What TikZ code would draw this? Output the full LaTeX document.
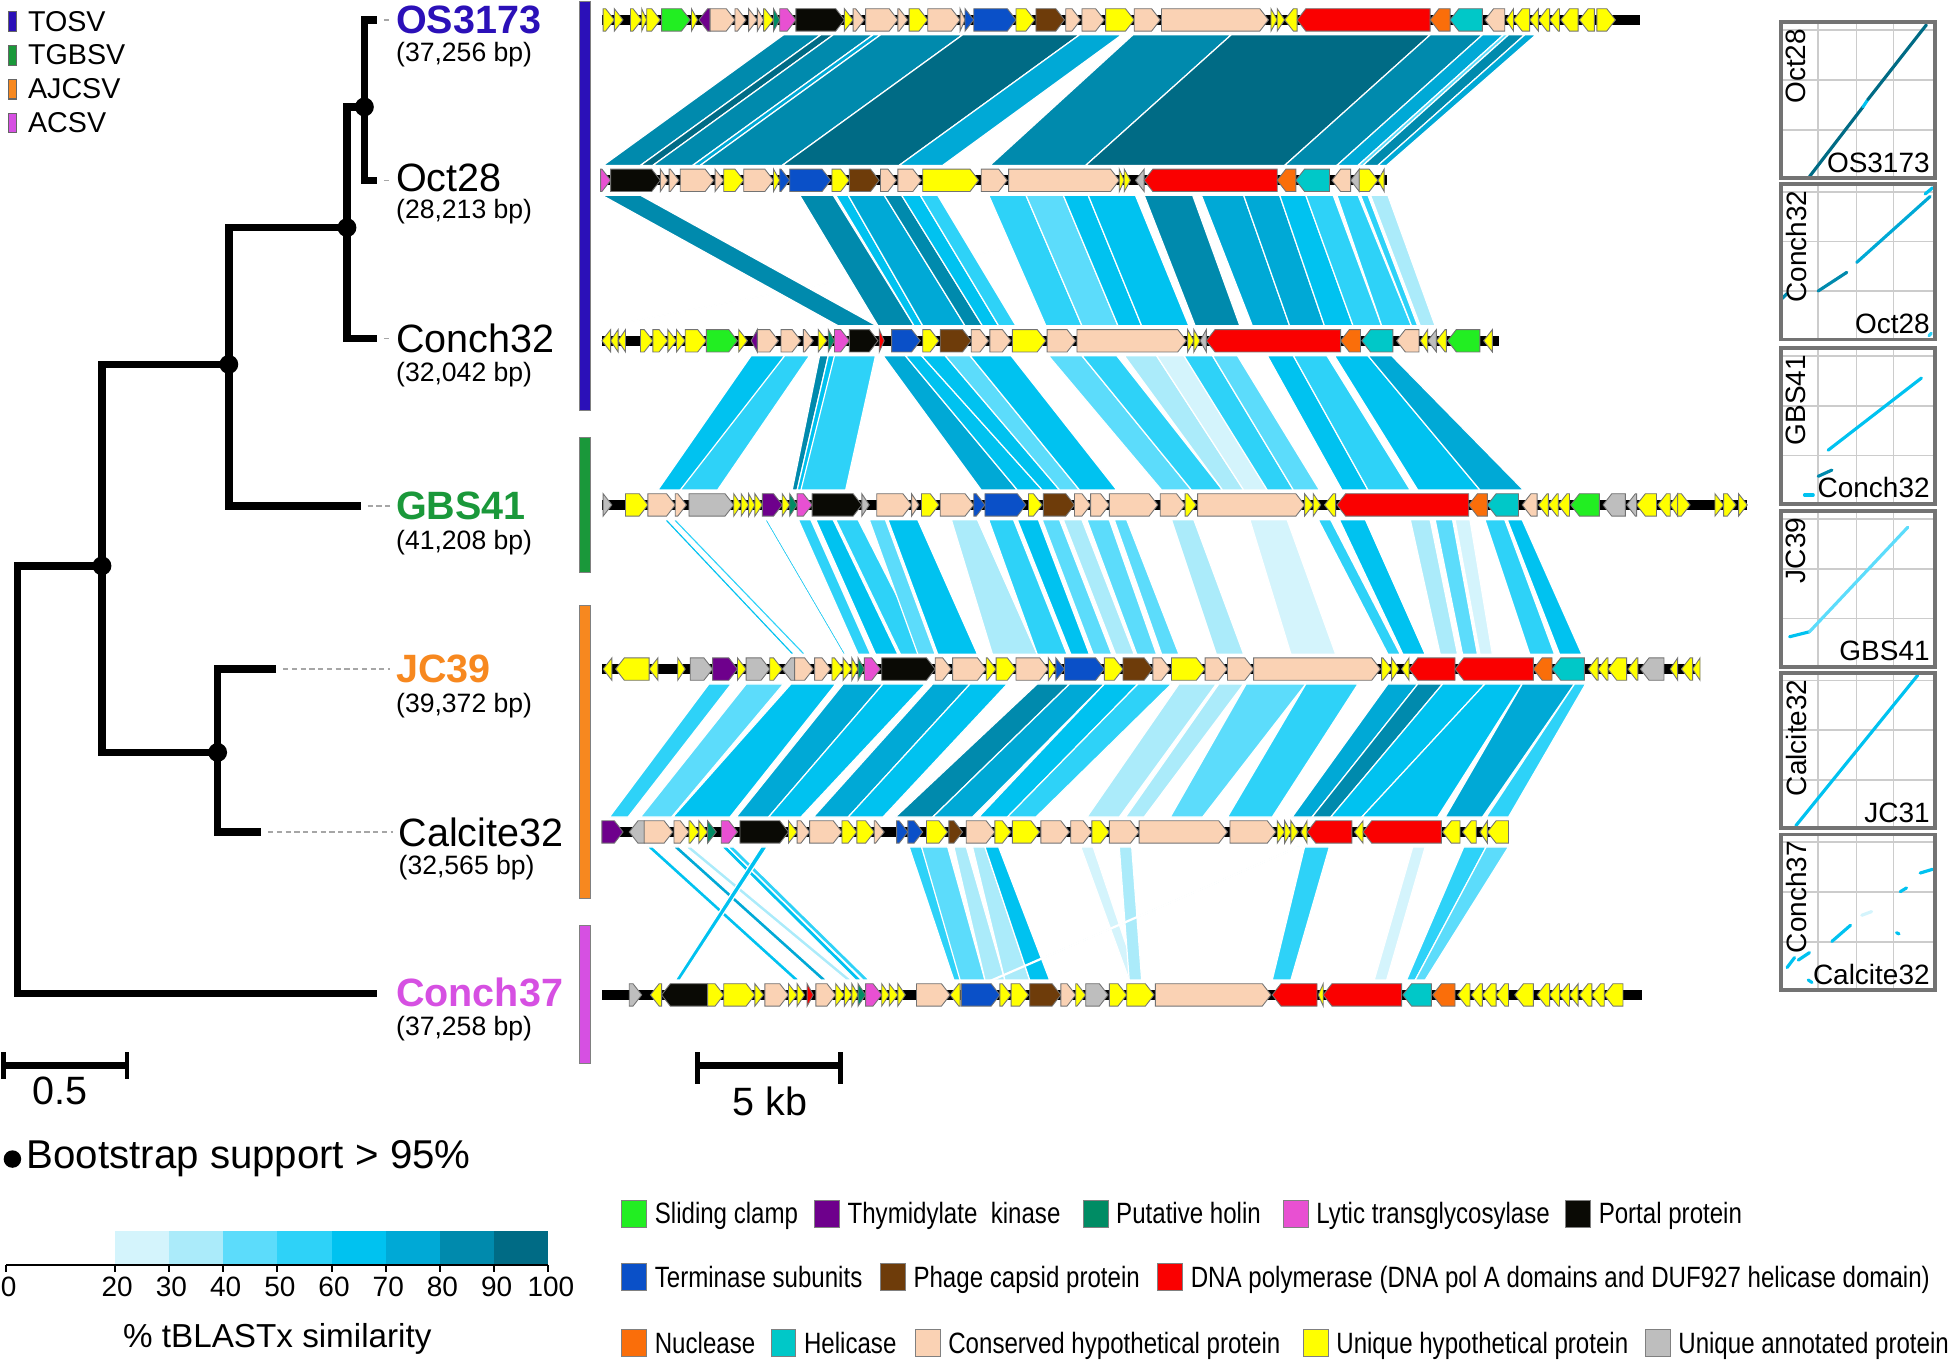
\documentclass[tikz,border=0pt]{standalone}
\usepackage{fontspec}
\setmainfont{Liberation Sans}
\newfontfamily\narrowfont[FakeStretch=0.82]{Liberation Sans}
\usetikzlibrary{calc}

% clade colours
\definecolor{tosv}{RGB}{43,16,184}
\definecolor{tgbsv}{RGB}{26,152,58}
\definecolor{ajcsv}{RGB}{247,136,31}
\definecolor{acsv}{RGB}{214,80,226}
% gene classes
\definecolor{clamp}{RGB}{34,238,34}
\definecolor{tmk}{RGB}{110,0,140}
\definecolor{holin}{RGB}{0,140,100}
\definecolor{lytic}{RGB}{232,80,210}
\definecolor{portal}{RGB}{10,10,5}
\definecolor{term}{RGB}{10,80,200}
\definecolor{capsid}{RGB}{110,60,10}
\definecolor{pol}{RGB}{250,0,0}
\definecolor{nucl}{RGB}{250,110,10}
\definecolor{helic}{RGB}{0,200,200}
\definecolor{chyp}{RGB}{250,210,180}
\definecolor{uhyp}{RGB}{255,255,0}
\definecolor{uann}{RGB}{190,190,190}
% tBLASTx shades
\definecolor{s20}{RGB}{212,244,252}
\definecolor{s30}{RGB}{171,235,250}
\definecolor{s40}{RGB}{92,220,251}
\definecolor{s50}{RGB}{46,210,248}
\definecolor{s60}{RGB}{0,194,240}
\definecolor{s70}{RGB}{0,169,214}
\definecolor{s80}{RGB}{0,138,173}
\definecolor{s90}{RGB}{0,107,133}

\newcommand\fsz[1]{\fontsize{#1}{#1}\selectfont}

\tikzset{
  branch/.style={line width=2.1pt, line join=miter},
  leader/.style={black!35, dash pattern=on 1.5pt off 1pt, line width=0.4pt, shorten <=2pt, shorten >=1.5pt},
  taxon/.style={anchor=west, inner sep=0pt, font=\fsz{11.3}},
  boldtaxon/.style={anchor=west, inner sep=0pt, font=\fsz{11.3}\bfseries},
  bplabel/.style={anchor=west, inner sep=0pt, font=\fsz{7.6}},
  gene/.style={draw=black!55, line width=0.25pt, line join=miter},
  band/.style={draw=white, line width=0.35pt},
  swatch/.style={draw=black!50, line width=0.3pt},
  keytext/.style={anchor=base west, inner sep=0pt, font=\narrowfont\fsz{8.4}},
  dotbox/.style={draw=black!55, line width=1.1pt},
  dotgrid/.style={black!20, line width=0.5pt},
  dotlabel/.style={inner sep=1pt, font=\fsz{8}},
  hit/.style={line width=0.9pt, line cap=round},
  scalebar/.style={line width=2pt},
}

% one genome: y, end of backbone, genes start/end/colour/strand
\newcommand\genome[3]{%
  \fill (484,#1-4) rectangle (#2,#1+4);
  \foreach \xa/\xb/\col/\dir in {#3}{
    \pgfmathsetmacro\tailx{\dir>0 ? \xa : \xb}
    \pgfmathsetmacro\tipx{\dir>0 ? \xb : \xa}
    \pgfmathsetmacro\neckx{\tipx-(\dir)*min(7,\xb-\xa)}
    \draw[gene, fill=\col] (\tailx,#1-9) -- (\neckx,#1-9) -- (\tipx,#1)
      -- (\neckx,#1+9) -- (\tailx,#1+9) -- cycle;
  }}
% similarity bands between two genomes
\newcommand\bands[3]{%
  \foreach \ta/\tb/\ba/\bb/\sh in {#3}
    \filldraw[band, fill=\sh] (\ta,#1) -- (\tb,#1) -- (\bb,#2) -- (\ba,#2) -- cycle;}

\begin{document}
\begin{tikzpicture}[x=0.125mm, y=-0.125mm]
\useasboundingbox (0,0) rectangle (1568,1094);

% clade key
\foreach \col/\txt [count=\i] in {tosv/TOSV, tgbsv/TGBSV, ajcsv/AJCSV, acsv/ACSV}{
  \pgfmathsetmacro\ky{17+27.3*(\i-1)}
  \fill[\col, draw=black!60, line width=0.3pt] (7,\ky-8) rectangle (13,\ky+8);
  \node[anchor=west, inner sep=0pt, font=\fsz{8.2}] (key\i) at (22,\ky) {\txt};
}

% tree
\coordinate (r) at (14,455);
\coordinate (n2) at (82,455);
\coordinate (n3) at (184,293);
\coordinate (n4) at (175,605);
\coordinate (n5) at (279,183);
\coordinate (n6) at (293,86);
\coordinate (tOS) at (303,16);
\coordinate (tOct) at (303,145);
\coordinate (tCon32) at (303,272);
\coordinate (tGBS) at (290,407);
\coordinate (tJC) at (222,538);
\coordinate (tCal) at (210,669);
\coordinate (tCon37) at (303,799);
\draw[branch] (n2) -- (r) |- (tCon37);
\draw[branch] (n3) -| (n2) |- (n4);
\draw[branch] (n5) -| (n3) |- (tGBS);
\draw[branch] (tJC) -| (n4) |- (tCal);
\draw[branch] (n6) -| (n5) |- (tCon32);
\draw[branch] (tOS) -| (n6) |- (tOct);
\foreach \n in {n2,n3,n4,n5,n6} \fill (\n) circle (2.7pt);

% taxa
\node[boldtaxon, tosv] (lOS) at (318,16) {OS3173};
\node[bplabel] (bOS) at (318,44) {(37,256 bp)};
\node[taxon] (lOct) at (318,143) {Oct28};
\node[bplabel] (bOct) at (318,170) {(28,213 bp)};
\node[taxon] (lCon32) at (318,272) {Conch32};
\node[bplabel] (bCon32) at (318,301) {(32,042 bp)};
\node[boldtaxon, tgbsv] (lGBS) at (318,407) {GBS41};
\node[bplabel] (bGBS) at (318,436) {(41,208 bp)};
\node[boldtaxon, ajcsv] (lJC) at (318,538) {JC39};
\node[bplabel] (bJC) at (318,567) {(39,372 bp)};
\node[taxon] (lCal) at (320,669) {Calcite32};
\node[bplabel] (bCal) at (320,698) {(32,565 bp)};
\node[boldtaxon, acsv] (lCon37) at (318,798) {Conch37};
\node[bplabel] (bCon37) at (318,827) {(37,258 bp)};
\foreach \t/\l in {tOS/lOS, tOct/lOct, tCon32/lCon32, tGBS/lGBS, tJC/lJC, tCal/lCal}
  \draw[leader] (\t) -- (\t -| \l.west);

% clade bars
\fill[tosv, draw=black!50, line width=0.2pt] (466,1) rectangle (475,330);
\fill[tgbsv, draw=black!50, line width=0.2pt] (466,352) rectangle (475,460);
\fill[ajcsv, draw=black!50, line width=0.2pt] (466,487) rectangle (475,722);
\fill[acsv, draw=black!50, line width=0.2pt] (466,744) rectangle (475,855);

% tree scale and bootstrap key
\draw[scalebar] (3,857) -- (102,857);
\draw[line width=1.3pt] (3,846) -- (3,868) (102,846) -- (102,868);
\node[font=\fsz{11.3}] (treescale) at (48,877) {0.5};
\fill (10,932) circle (2.5pt);
\node[anchor=west, inner sep=0pt, font=\fsz{11.5}] (boot) at (21,932) {Bootstrap support > 95\%};

% similarity bands
\bands{28}{133}{630/660/485/515/s80, 660/670/515/525/s90, 670/702/525/557/s80,
  702/708/557/563/s70, 708/774/563/629/s80, 774/868/629/723/s90, 868/902/723/758/s70,
  911/990/796/873/s80, 990/1150/873/1033/s90, 1150/1192/1033/1075/s80,
  1192/1209/1075/1092/s70, 1209/1213/1092/1096/s40, 1213/1226/1096/1108/s80,
  1226/1235/1108/1115/s70}
\bands{157}{262}{1030/1032/488/490/s30, 484/515/674/705/s80, 643/670/706/735/s80,
  672/682/735/742/s60, 682/711/742/776/s70, 711/725/776/790/s80, 725/740/790/803/s60,
  740/754/803/817/s50, 795/825/841/870/s50, 825/855/870/899/s40, 855/875/899/918/s60,
  875/913/918/956/s60, 920/959/961/997/s80, 966/1000/1007/1037/s70, 1000/1029/1037/1065/s70,
  1029/1050/1065/1088/s60, 1050/1072/1088/1111/s50, 1075/1092/1111/1135/s50,
  1094/1100/1135/1140/s50, 1102/1116/1142/1154/s30}
\bands{286}{394}{604/631/529/559/s60, 631/651/547/577/s50, 659/666/637/641/s80,
  666/680/641/648/s60, 671/704/644/680/s50, 710/728/789/818/s70, 728/741/818/838/s60,
  741/760/838/852/s60, 760/780/852/868/s40, 780/813/868/898/s60, 843/870/934/958/s40,
  870/898/958/983/s50, 904/930/983/1000/s30, 930/952/1000/1019/s20, 952/975/1019/1040/s50,
  975/995/1040/1061/s40, 1019/1040/1079/1100/s60, 1040/1067/1100/1134/s50,
  1073/1100/1140/1190/s60, 1100/1119/1190/1225/s70}
\bands{418}{526}{534/537/636/639/s60, 541/544/645/648/s50, 615/617/678/680/s60,
  642/652/690/700/s50, 656/670/704/722/s60, 672/690/724/745/s50, 699/712/738/752/s40,
  714/738/754/786/s60, 765/786/798/834/s30, 795/815/834/858/s50, 818/835/861/876/s60,
  838/852/879/894/s40, 855/870/897/912/s30, 874/892/914/930/s40, 896/906/934/948/s40,
  942/960/978/1000/s30, 1005/1035/1038/1074/s20, 1060/1070/1116/1126/s50,
  1077/1098/1128/1146/s60, 1134/1150/1158/1172/s30, 1154/1168/1176/1188/s40,
  1170/1182/1190/1200/s20, 1194/1210/1230/1250/s50, 1212/1224/1254/1272/s60}
\bands{550}{657}{570/588/490/505/s50, 600/630/515/540/s40, 636/672/541/587/s60,
  678/710/592/618/s70, 710/744/618/644/s60, 750/780/654/682/s70, 780/810/682/710/s60,
  834/860/720/750/s80, 860/888/750/782/s70, 888/915/787/810/s60, 915/942/810/833/s50,
  948/978/874/900/s30, 980/1000/905/920/s30, 1002/1050/941/967/s40, 1050/1092/987/1023/s50,
  1116/1140/1039/1055/s70, 1140/1160/1055/1070/s80, 1160/1194/1070/1095/s60,
  1194/1224/1095/1156/s60, 1224/1266/1162/1192/s70, 1266/1275/1195/1213/s50}
\bands{681}{788}{520/525/638/643/s60, 541/546/660/665/s70, 551/556/680/685/s30,
  580/585/688/693/s60, 585/590/694/699/s50, 612/617/543/547/s60, 731/741/767/777/s50,
  741/762/772/792/s40, 767/777/792/808/s30, 782/792/808/828/s30, 792/803/828/844/s60,
  869/879/908/915/s20, 900/910/908/918/s30, 1043/1045/797/799/s50, 1049/1069/1023/1038/s50,
  1136/1146/1105/1115/s20, 1177/1195/1131/1138/s50, 1195/1213/1138/1146/s40}

% genome maps
\genome{16}{1319}{485/494/uhyp/1, 494/501/uhyp/1, 507/516/uhyp/1, 516/520/uhyp/1,
  520/531/uhyp/1, 532/555/clamp/1, 556/561/uhyp/1, 562/571/tmk/-1, 571/591/chyp/1,
  591/600/chyp/1, 602/609/chyp/1, 609/614/chyp/1, 614/622/uhyp/1, 622/627/holin/1,
  627/640/lytic/1, 640/679/portal/1, 679/686/uhyp/1, 686/695/chyp/1, 696/722/chyp/1,
  722/730/chyp/1, 731/746/uhyp/1, 746/772/chyp/1, 772/776/chyp/1, 776/783/term/1,
  783/817/term/1, 817/832/uhyp/1, 833/856/capsid/1, 857/869/chyp/1, 870/888/chyp/1,
  889/912/uhyp/1, 912/933/chyp/1, 934/1020/chyp/1, 1022/1027/uhyp/1, 1027/1033/uhyp/1,
  1033/1043/uhyp/-1, 1043/1150/pol/-1, 1150/1166/nucl/-1, 1166/1192/helic/-1,
  1194/1210/chyp/-1, 1211/1217/uhyp/-1, 1217/1230/uhyp/-1, 1230/1237/uhyp/-1,
  1237/1246/uhyp/-1, 1246/1254/uhyp/-1, 1255/1269/uhyp/-1, 1270/1282/uhyp/-1,
  1284/1299/uhyp/1}
\genome{145}{1115}{483/491/lytic/1, 491/531/portal/1, 531/537/chyp/1, 538/546/chyp/1,
  547/574/chyp/1, 575/582/chyp/1, 582/598/uhyp/1, 598/622/chyp/1, 622/627/uhyp/1,
  627/635/term/1, 635/668/term/1, 669/683/uhyp/1, 683/707/capsid/1, 708/721/chyp/1,
  722/741/chyp/1, 742/787/uhyp/1, 789/810/chyp/1, 811/900/chyp/1, 900/904/uhyp/1,
  904/909/uhyp/1, 913/920/uann/-1, 920/1027/pol/-1, 1027/1042/nucl/-1, 1042/1069/helic/-1,
  1071/1086/chyp/-1, 1086/1093/uann/-1, 1093/1108/uhyp/1, 1108/1113/uhyp/-1}
\genome{274}{1205}{484/491/uhyp/-1, 491/497/uhyp/-1, 497/503/uhyp/-1, 515/525/uhyp/1,
  525/537/uhyp/1, 537/544/uhyp/1, 544/551/uhyp/1, 551/568/uhyp/1, 568/593/clamp/1,
  594/601/uhyp/1, 604/609/tmk/-1, 609/626/chyp/1, 628/644/chyp/1, 646/654/chyp/1,
  658/665/uhyp/1, 666/671/holin/1, 671/683/lytic/1, 683/706/portal/1, 707/711/pol/1,
  717/740/term/1, 742/755/uhyp/1, 756/781/capsid/1, 781/795/chyp/1, 796/813/chyp/1,
  814/841/uhyp/1, 842/865/chyp/1, 866/954/chyp/1, 955/960/uhyp/1, 960/965/uhyp/1,
  965/970/uann/-1, 970/1078/pol/-1, 1078/1094/nucl/-1, 1095/1120/helic/-1,
  1123/1141/chyp/-1, 1142/1148/uhyp/-1, 1148/1155/uann/-1, 1155/1163/uhyp/-1,
  1164/1190/clamp/-1, 1193/1200/uhyp/-1}
\genome{406}{1405}{485/492/uann/1, 503/521/uhyp/1, 521/543/chyp/1, 543/552/chyp/1,
  554/590/uann/1, 590/596/uhyp/1, 596/602/uhyp/1, 602/607/uhyp/1, 607/613/uhyp/1,
  613/629/tmk/1, 629/635/uhyp/1, 635/641/holin/1, 641/653/lytic/1, 653/693/portal/1,
  693/699/uann/1, 705/733/chyp/1, 733/739/chyp/1, 741/755/uhyp/1, 756/783/chyp/1,
  783/792/term/1, 792/825/term/1, 827/838/uhyp/1, 839/864/capsid/1, 864/877/chyp/1,
  877/892/chyp/1, 892/931/chyp/1, 933/953/chyp/1, 953/962/uhyp/1, 963/1049/chyp/1,
  1049/1056/uhyp/1, 1056/1062/uhyp/1, 1065/1074/uhyp/-1, 1075/1181/pol/-1,
  1181/1196/nucl/-1, 1196/1221/helic/-1, 1224/1236/chyp/-1, 1237/1245/uhyp/-1,
  1245/1253/uhyp/-1, 1253/1262/uhyp/-1, 1263/1286/clamp/-1, 1289/1307/uann/-1,
  1308/1316/uann/-1, 1316/1332/uhyp/-1, 1333/1343/uhyp/-1, 1343/1349/uhyp/-1,
  1349/1359/uhyp/1, 1379/1386/uhyp/1, 1386/1396/uhyp/1, 1398/1405/uhyp/1}
\genome{538}{1367}{485/492/uhyp/-1, 495/522/uhyp/-1, 522/529/uhyp/-1, 545/551/uhyp/1,
  555/573/uann/1, 573/593/tmk/1, 593/600/uhyp/1, 600/619/uann/1, 619/629/uhyp/1,
  629/639/uann/-1, 639/654/chyp/1, 655/668/chyp/1, 669/678/uhyp/1, 678/685/uhyp/1,
  685/690/uhyp/1, 690/695/holin/1, 695/708/lytic/1, 709/752/portal/1, 752/765/chyp/1,
  766/793/chyp/1, 793/801/uhyp/1, 801/817/uhyp/1, 817/843/chyp/1, 843/849/uhyp/1,
  849/856/term/1, 856/888/term/1, 888/903/uhyp/1, 903/927/capsid/1, 927/941/chyp/1,
  942/969/uhyp/1, 969/987/chyp/1, 987/1008/chyp/1, 1008/1110/chyp/1, 1111/1119/uhyp/1,
  1119/1125/uhyp/1, 1127/1133/uhyp/-1, 1133/1170/pol/-1, 1170/1233/pol/-1,
  1233/1248/nucl/-1, 1248/1274/helic/-1, 1277/1285/uhyp/-1, 1285/1293/uhyp/-1,
  1293/1308/uhyp/-1, 1309/1317/uhyp/-1, 1319/1338/uann/-1, 1343/1349/uhyp/-1,
  1352/1361/uhyp/-1, 1361/1367/uhyp/-1}
\genome{669}{1213}{484/501/tmk/1, 506/518/uann/-1, 518/541/chyp/1, 542/554/chyp/1,
  554/562/uhyp/1, 562/569/uhyp/1, 569/576/holin/1, 580/593/lytic/1, 595/634/portal/1,
  634/641/uhyp/1, 641/651/chyp/1, 651/677/chyp/1, 677/689/uhyp/1, 689/703/uhyp/1,
  703/711/chyp/1, 721/730/term/1, 730/742/term/1, 745/762/uhyp/1, 763/774/capsid/1,
  777/800/chyp/1, 800/813/uhyp/1, 814/836/uhyp/1, 837/860/chyp/1, 861/878/chyp/1,
  878/892/uhyp/1, 892/916/chyp/1, 916/987/chyp/1, 989/1026/chyp/1, 1027/1033/uhyp/1,
  1033/1038/uhyp/1, 1038/1044/uhyp/1, 1046/1051/uhyp/-1, 1051/1087/pol/-1,
  1089/1096/uhyp/-1, 1096/1159/pol/-1, 1160/1174/uhyp/-1, 1176/1187/uhyp/-1,
  1190/1196/uhyp/-1, 1196/1213/uhyp/-1}
\genome{800}{1320}{506/516/uann/1, 523/532/uhyp/-1, 532/569/portal/-1, 569/582/uhyp/1,
  582/607/uhyp/1, 607/614/uhyp/1, 615/634/chyp/1, 634/641/uhyp/1, 641/647/uhyp/1,
  649/654/pol/1, 656/672/chyp/1, 672/679/uhyp/1, 679/685/uhyp/1, 685/690/uhyp/1,
  690/696/holin/1, 696/709/lytic/1, 709/715/uhyp/1, 715/722/uhyp/1, 722/728/uhyp/1,
  737/764/chyp/1, 764/772/uhyp/-1, 773/804/term/1, 804/813/uhyp/1, 813/827/uhyp/1,
  828/853/capsid/1, 853/865/chyp/1, 865/873/uhyp/1, 873/891/uann/1, 892/906/uhyp/1,
  906/928/uhyp/1, 929/1022/chyp/1, 1023/1059/pol/-1, 1060/1064/uhyp/-1,
  1064/1127/pol/-1, 1128/1151/helic/-1, 1152/1170/nucl/-1, 1172/1182/uhyp/-1,
  1183/1192/uhyp/-1, 1192/1203/uhyp/-1, 1203/1213/uhyp/-1, 1218/1233/uhyp/-1,
  1236/1246/uhyp/-1, 1246/1254/uhyp/-1, 1254/1262/uhyp/-1, 1262/1269/uhyp/-1,
  1270/1280/uhyp/-1, 1280/1290/uhyp/-1, 1290/1305/uhyp/-1}

% genome scale
\draw[scalebar] (561,857) -- (676,857);
\draw[line width=1.3pt] (561,846) -- (561,872) (676,846) -- (676,872);
\node[font=\fsz{11.3}] (kbscale) at (619,886) {5 kb};

% dot plots
\foreach \bt in {18,148,280,411,541,671}{
  \foreach \f in {0.24,0.49,0.73}
    \draw[dotgrid] ({1432+124*\f},\bt) -- ({1432+124*\f},\bt+125);
  \foreach \f in {0.05,0.37,0.69}
    \draw[dotgrid] (1432,{\bt+125*\f}) -- (1556,{\bt+125*\f});
}
\foreach \xa/\ya/\xb/\yb/\sh in {1455/142/1498/86/s90, 1498/86/1502/80/s60, 1502/80/1549/20/s90,
  1433/240/1437/236/s80, 1462/234/1485/219/s80, 1493/211/1552/158/s70, 1548/156/1554/151/s60,
  1551/270/1553/268/s50,
  1462/383/1473/378/s80, 1470/362/1545/304/s60, 1451/398/1458/398/s60,
  1439/512/1455/508/s60, 1455/508/1534/424/s40,
  1444/664/1542/543/s60,
  1437/778/1443/770/s60, 1446/772/1455/766/s60, 1473/757/1488/744/s60, 1497/736/1505/733/s20,
  1528/717/1533/714/s60, 1544/702/1554/699/s60, 1525/750/1527/751/s60, 1454/788/1457/790/s60}
  \draw[hit, \sh] (\xa,\ya) -- (\xb,\yb);
\foreach \bt/\ylab/\xlab [count=\k] in {18/Oct28/OS3173, 148/Conch32/Oct28,
    280/GBS41/Conch32, 411/JC39/GBS41, 541/Calcite32/JC31, 671/Conch37/Calcite32}{
  \draw[dotbox] (1432,\bt) rectangle (1556,\bt+125);
  \node[dotlabel, rotate=90, anchor=north east] (yl\k) at (1433,\bt+2) {\ylab};
  \node[dotlabel, anchor=south east] (xl\k) at (1555,\bt+124) {\xlab};
}

% tBLASTx colour key
\foreach \lo/\hi/\sh in {20/30/s20, 30/40/s30, 40/50/s40, 50/60/s50, 60/70/s60,
    70/80/s70, 80/90/s80, 90/100/s90}
  \fill[\sh] ({5+4.36*\lo},990) rectangle ({5+4.36*\hi},1017);
\draw[line width=0.6pt] (5,1017) -- (441,1017);
\foreach \v in {0,20,30,...,100}{
  \draw[line width=0.6pt] ({5+4.36*\v},1017) -- ({5+4.36*\v},1023);
  \node[font=\fsz{8}, inner sep=0pt] (tick\v) at ({7+4.36*\v},1035) {\v};
}
\node[font=\fsz{9.5}] (simlabel) at (223,1077) {\% tBLASTx similarity};

% gene key
\foreach \x/\y/\col/\txt [count=\i] in {500/976/clamp/Sliding clamp,
    655/976/tmk/Thymidylate\ \ kinase, 871/976/holin/Putative holin,
    1032/976/lytic/Lytic transglycosylase, 1259/976/portal/Portal protein,
    500/1027/term/Terminase subunits, 708/1027/capsid/Phage capsid protein,
    931/1027/pol/DNA polymerase (DNA pol A domains and DUF927 helicase domain),
    500/1080/nucl/Nuclease, 620/1080/helic/Helicase,
    736/1080/chyp/Conserved hypothetical protein,
    1048/1080/uhyp/Unique hypothetical protein, 1323/1080/uann/Unique annotated protein}{
  \fill[swatch, fill=\col] (\x,\y-11) rectangle (\x+20,\y+11);
  \node[keytext] (gk\i) at (\x+26,\y+8) {\txt};
}
\end{tikzpicture}
\end{document}
